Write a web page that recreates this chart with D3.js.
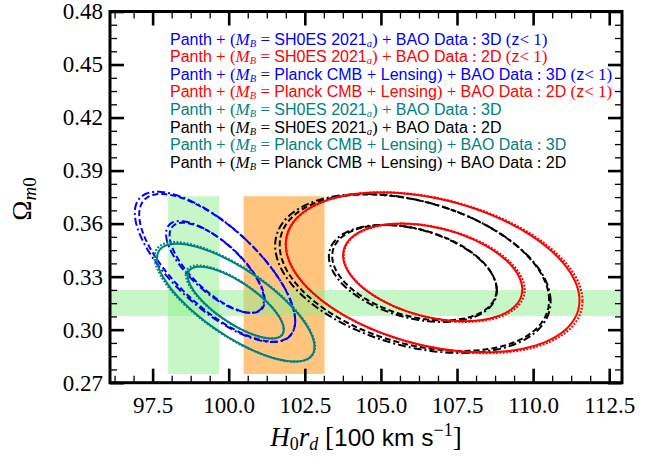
<!DOCTYPE html>
<html>
<head>
<meta charset="utf-8">
<script src="https://cdn.jsdelivr.net/npm/d3@7"></script>
<style>
  html, body { margin: 0; padding: 0; background: #fff; }
  svg { display: block; }
</style>
</head>
<body>
<svg id="chart" width="649" height="458"></svg>
<script>
// ---------------- DATA ----------------
const xTickValues = [97.5, 100.0, 102.5, 105.0, 107.5, 110.0, 112.5];
const xTickLabels = ["97.5", "100.0", "102.5", "105.0", "107.5", "110.0", "112.5"];
const yTickValues = [0.27, 0.30, 0.33, 0.36, 0.39, 0.42, 0.45, 0.48];
const yTickLabels = ["0.27", "0.30", "0.33", "0.36", "0.39", "0.42", "0.45", "0.48"];
const xDomain = [96.1, 112.92];
const yDomain = [0.27, 0.48];

// Bands: [x0, x1, y0, y1]  (null => full extent)
const bandNames   = ["greenV", "orangeV", "greenH"];
const bandX0      = [98.01, 100.49, null];
const bandX1      = [99.69, 103.15, null];
const bandY0      = [0.275, 0.275, 0.3077];
const bandY1      = [0.3755, 0.3755, 0.3224];
const bandColors  = ["#90ee90", "#ff8c00", "#90ee90"];

// Contour sets (Gaussian approx.): centre, sigmas, correlation
const contourNames = [
  "SH0ES 3D(z<1)", "Planck 3D(z<1)",
  "SH0ES 3D", "Planck 3D",
  "SH0ES 2D", "Planck 2D",
  "SH0ES 2D(z<1)", "Planck 2D(z<1)"
];
const contourMeanX = [99.55, 99.62, 100.23, 100.20, 106.05, 106.10, 106.70, 106.75];
const contourMeanY = [0.3355, 0.3350, 0.3153, 0.3157, 0.3318, 0.3322, 0.3324, 0.3322];
const contourSigX  = [1.06, 1.03, 1.04, 1.06, 1.82, 1.78, 1.94, 1.96];
const contourSigY  = [0.0171, 0.0168, 0.0134, 0.0136, 0.0181, 0.0178, 0.0182, 0.0183];
const contourRho   = [-0.72, -0.72, -0.75, -0.75, -0.35, -0.35, -0.35, -0.35];
const contourColor = ["#0000ff", "#0000ff", "#008080", "#008080", "#000000", "#000000", "#ff0000", "#ff0000"];
const contourStyle = ["dashdot", "dashed", "solid", "dotted", "dashdot", "dashed", "solid", "dotted"];
const contourLevels = [2.30, 6.18]; // delta chi^2 for 1 and 2 sigma

// Legend
const legendColors = ["#0000ff", "#ff0000", "#0000ff", "#ff0000", "#008080", "#000000", "#008080", "#000000"];
const legendPrior  = ["SH0ES", "SH0ES", "Planck", "Planck", "SH0ES", "SH0ES", "Planck", "Planck"];
const legendData   = ["3D", "2D", "3D", "2D", "3D", "2D", "3D", "2D"];
const legendLowZ   = [true, true, true, true, false, false, false, false];

// ---------------- LAYOUT ----------------
const svg = d3.select("#chart");
const L = 110, R = 622, T = 11.5, B = 382.7;
const x = d3.scaleLinear().domain(xDomain).range([L, R]);
const y = d3.scaleLinear().domain(yDomain).range([B, T]);

const SERIF = "'Liberation Serif', 'Times New Roman', serif";
const SANS = "'Liberation Sans', Arial, sans-serif";

const defs = svg.append("defs");
defs.append("clipPath").attr("id", "plotclip")
  .append("rect").attr("x", L).attr("y", T).attr("width", R - L).attr("height", B - T);

const plot = svg.append("g").attr("clip-path", "url(#plotclip)");

// Bands
bandNames.forEach((n, i) => {
  const x0 = bandX0[i] === null ? xDomain[0] : bandX0[i];
  const x1 = bandX1[i] === null ? xDomain[1] : bandX1[i];
  plot.append("rect")
    .attr("x", x(x0)).attr("width", x(x1) - x(x0))
    .attr("y", y(bandY1[i])).attr("height", y(bandY0[i]) - y(bandY1[i]))
    .attr("fill", bandColors[i]).attr("fill-opacity", 0.5);
});

// Contours
const dashMap = {
  solid: null,
  dashed: "6,3",
  dashdot: "8,3,2,3",
  dotted: "1.8,1.6"
};
const line = d3.line().x(d => x(d[0])).y(d => y(d[1])).curve(d3.curveLinearClosed);
function ellipse(i, lvl) {
  const k = Math.sqrt(lvl);
  const mx = contourMeanX[i], my = contourMeanY[i];
  const sx = contourSigX[i], sy = contourSigY[i], r = contourRho[i];
  const pts = [];
  const N = 240;
  for (let j = 0; j < N; j++) {
    const t = 2 * Math.PI * j / N;
    pts.push([mx + k * sx * Math.cos(t),
              my + k * sy * (r * Math.cos(t) + Math.sqrt(1 - r * r) * Math.sin(t))]);
  }
  return pts;
}
contourNames.forEach((n, i) => {
  contourLevels.forEach(lvl => {
    plot.append("path")
      .attr("d", line(ellipse(i, lvl)))
      .attr("fill", "none")
      .attr("stroke", contourColor[i])
      .attr("stroke-width", contourStyle[i] === "dotted" ? 2.2 : 2)
      .attr("stroke-dasharray", dashMap[contourStyle[i]])
      .attr("stroke-linecap", "butt");
  });
});

// ---------------- AXES ----------------
const xMinor = d3.range(xTickValues[0] - 2.5, xDomain[1], 0.625)
  .filter(v => v >= xDomain[0] && !xTickValues.some(t => Math.abs(t - v) < 1e-6));
const yMinor = d3.range(yDomain[0], yDomain[1] + 1e-9, 0.0075)
  .filter(v => !yTickValues.some(t => Math.abs(t - v) < 1e-6));

function styleAxis(g, width, font) {
  g.select(".domain").remove();
  g.selectAll(".tick line").attr("stroke", "#000").attr("stroke-width", width);
  g.selectAll("text").attr("font-family", SERIF).attr("font-size", font).attr("fill", "#000");
}

// bottom major
svg.append("g").attr("transform", `translate(0,${B})`)
  .call(d3.axisBottom(x).tickValues(xTickValues).tickFormat((d, i) => xTickLabels[i])
    .tickSizeInner(-14).tickSizeOuter(0).tickPadding(14))
  .call(g => styleAxis(g, 2.6, 23));
svg.append("g").attr("transform", `translate(0,${B})`)
  .call(d3.axisBottom(x).tickValues(xMinor).tickFormat("").tickSizeInner(-7).tickSizeOuter(0))
  .call(g => styleAxis(g, 1.3, 10));
// top
svg.append("g").attr("transform", `translate(0,${T})`)
  .call(d3.axisTop(x).tickValues(xTickValues).tickFormat("").tickSizeInner(-14).tickSizeOuter(0))
  .call(g => styleAxis(g, 2.6, 10));
svg.append("g").attr("transform", `translate(0,${T})`)
  .call(d3.axisTop(x).tickValues(xMinor).tickFormat("").tickSizeInner(-7).tickSizeOuter(0))
  .call(g => styleAxis(g, 1.3, 10));
// left
svg.append("g").attr("transform", `translate(${L},0)`)
  .call(d3.axisLeft(y).tickValues(yTickValues).tickFormat((d, i) => yTickLabels[i])
    .tickSizeInner(-14).tickSizeOuter(0).tickPadding(7))
  .call(g => styleAxis(g, 2.6, 23));
svg.append("g").attr("transform", `translate(${L},0)`)
  .call(d3.axisLeft(y).tickValues(yMinor).tickFormat("").tickSizeInner(-7).tickSizeOuter(0))
  .call(g => styleAxis(g, 1.3, 10));
// right
svg.append("g").attr("transform", `translate(${R},0)`)
  .call(d3.axisRight(y).tickValues(yTickValues).tickFormat("").tickSizeInner(-14).tickSizeOuter(0))
  .call(g => styleAxis(g, 2.6, 10));
svg.append("g").attr("transform", `translate(${R},0)`)
  .call(d3.axisRight(y).tickValues(yMinor).tickFormat("").tickSizeInner(-7).tickSizeOuter(0))
  .call(g => styleAxis(g, 1.3, 10));

// frame
svg.append("rect").attr("x", L).attr("y", T).attr("width", R - L).attr("height", B - T)
  .attr("fill", "none").attr("stroke", "#000").attr("stroke-width", 3);

// ---------------- LABELS ----------------
// x label
const xl = svg.append("text").attr("x", (L + R) / 2).attr("y", 446)
  .attr("text-anchor", "middle").attr("font-size", 27).attr("fill", "#000");
xl.append("tspan").attr("font-family", SERIF).attr("font-style", "italic").text("H");
xl.append("tspan").attr("font-family", SERIF).attr("font-size", 18).attr("dy", 4).text("0");
xl.append("tspan").attr("font-family", SERIF).attr("font-style", "italic").attr("dy", -4).text("r");
xl.append("tspan").attr("font-family", SERIF).attr("font-style", "italic").attr("font-size", 18).attr("dy", 4).text("d");
xl.append("tspan").attr("font-family", SERIF).attr("dy", -4).text(" [");
xl.append("tspan").attr("font-family", SANS).attr("font-size", 24.5).text("100 km s");
xl.append("tspan").attr("font-family", SERIF).attr("font-size", 18).attr("dy", -10).text("\u22121");
xl.append("tspan").attr("font-family", SERIF).attr("dy", 10).text("]");

// y label
const yl = svg.append("text").attr("transform", `translate(31,199) rotate(-90)`)
  .attr("text-anchor", "middle").attr("font-size", 27).attr("fill", "#000").attr("font-family", SERIF);
yl.append("tspan").text("\u03A9");
yl.append("tspan").attr("font-style", "italic").attr("font-size", 19).attr("dy", 5).text("m");
yl.append("tspan").attr("font-size", 19).text("0");

// legend
const legX = 170, legY0 = 44.5, legDY = 17.6, FS = 16, SUB = 10.5;
legendColors.forEach((c, i) => {
  const t = svg.append("text").attr("x", legX).attr("y", legY0 + i * legDY)
    .attr("font-size", FS).attr("fill", c);
  const sans = s => t.append("tspan").attr("font-family", SANS).text(s);
  const serif = s => t.append("tspan").attr("font-family", SERIF).attr("font-size", FS + 1).text(s);
  sans("Panth");
  serif(" + (");
  t.append("tspan").attr("font-family", SERIF).attr("font-style", "italic").attr("font-size", FS + 1).text("M");
  t.append("tspan").attr("font-family", SERIF).attr("font-style", "italic").attr("font-size", SUB).attr("dy", 2).text("B");
  t.append("tspan").attr("font-family", SERIF).attr("font-size", FS + 1).attr("dy", -2).text(" = ");
  if (legendPrior[i] === "SH0ES") {
    sans("SH0ES 2021");
    t.append("tspan").attr("font-family", SERIF).attr("font-style", "italic").attr("font-size", SUB).attr("dy", 2).text("a");
    t.append("tspan").attr("font-family", SERIF).attr("font-size", FS + 1).attr("dy", -2).text(") + ");
  } else {
    sans("Planck CMB ");
    serif("+");
    sans(" Lensing");
    serif(") + ");
  }
  sans("BAO Data");
  serif(" : ");
  sans(legendData[i]);
  if (legendLowZ[i]) {
    serif(" (");
    sans("z");
    serif("< 1)");
  }
});
</script>
</body>
</html>
